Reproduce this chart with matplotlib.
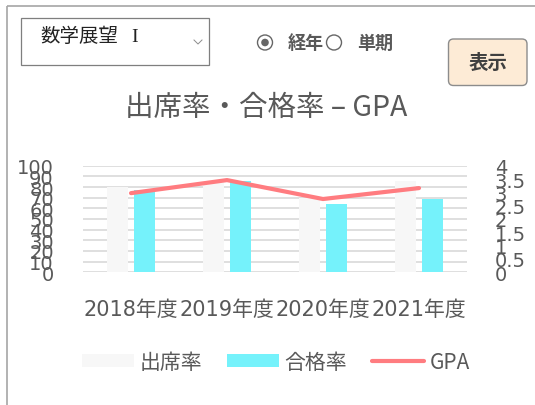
import matplotlib
matplotlib.use("Agg")
import matplotlib.pyplot as plt
import numpy as np
from matplotlib.patches import Circle, FancyBboxPatch
from matplotlib.lines import Line2D
from matplotlib.patches import Patch

plt.rcParams["font.family"] = ["Noto Sans CJK JP", "DejaVu Sans"]
NUM_FONT = ["DejaVu Sans", "Noto Sans CJK JP"]

# data
years = ["2018年度", "2019年度", "2020年度", "2021年度"]
attendance = [80, 84, 70, 86]
pass_rate = [77, 86, 64, 69]
gpa = [2.97, 3.46, 2.75, 3.16]
left_ticks = list(range(0, 101, 10))
right_ticks = [0, 0.5, 1, 1.5, 2, 2.5, 3, 3.5, 4]

TEXT = "#595959"
GRID = "#D9D9D9"
C_ATT = "#F7F7F7"
C_PASS = "#75F2FB"
C_GPA = "#FF7C80"

W, H = 535, 406
fig = plt.figure(figsize=(W / 100, H / 100), dpi=100)
fig.patch.set_facecolor("white")

# overlay in pixel coords for the form widgets and frame
ov = fig.add_axes([0, 0, 1, 1])
ov.set_xlim(0, W)
ov.set_ylim(H, 0)
ov.set_axis_off()

ov.plot([7.3, W], [7.3, 7.3], color="#A6A6A6", lw=1.2, solid_capstyle="butt")
ov.plot([7.3, 7.3], [7.3, H], color="#A6A6A6", lw=1.2, solid_capstyle="butt")

# dropdown
ov.add_patch(plt.Rectangle((21.3, 19), 188, 47, fc="white", ec="#7F7F7F", lw=0.9))
ov.text(40.7, 37, "数学展望", fontsize=14, color="#222222", va="center", ha="left")
ov.text(131, 37.5, "I", fontsize=14, family="Liberation Serif", color="#222222", va="center", ha="left")
ov.plot([194, 198, 202], [41, 45, 41], color="#8C8C8C", lw=0.7)

# radio buttons
ov.add_patch(Circle((265, 43.5), 7.5, fc="white", ec="#666666", lw=1.0))
ov.add_patch(Circle((265, 43.5), 3.8, fc="#666666", ec="none"))
ov.text(288, 43.5, "経年", fontsize=13, fontweight="bold", color=TEXT, va="center", ha="left")
ov.add_patch(Circle((334, 43.5), 7.5, fc="white", ec="#666666", lw=1.0))
ov.text(356.7, 43.5, "単期", fontsize=13, fontweight="bold", color=TEXT, va="center", ha="left")

# button
ov.add_patch(FancyBboxPatch((448.5, 40), 78.5, 46.5, boxstyle="round,pad=0,rounding_size=5",
                            fc="#FDEBD6", ec="#8C8C8C", lw=1.0))
ov.text(488, 63, "表示", fontsize=14, fontweight="bold", color="#404040", va="center", ha="center")

# title
fig.text(266 / W, 1 - 108 / H, "出席率・合格率 – GPA", fontsize=20.5, color=TEXT, ha="center", va="center")

# chart
ax1 = fig.add_axes([83 / W, 1 - 273.3 / H, 384 / W, 106.6 / H])
ax2 = ax1.twinx()
x = np.arange(len(years))
bw = 0.22
off = 0.143
ax1.bar(x - off, attendance, bw, color=C_ATT, zorder=2, label="出席率")
ax1.bar(x + off, pass_rate, bw, color=C_PASS, zorder=2, label="合格率")
ax2.plot(x, gpa, color=C_GPA, lw=3.0, solid_capstyle="round", zorder=3, label="GPA")

ax1.set_xlim(-0.5, len(years) - 0.5)
ax1.set_ylim(0, 100)
ax2.set_ylim(0, 4)
ax1.set_yticks(left_ticks)
ax2.set_yticks(right_ticks)
ax2.set_yticklabels([f"{t:g}" for t in right_ticks])
ax1.set_xticks(x)
ax1.set_xticklabels(years)
for t in left_ticks:
    ax1.axhline(t, color=GRID, lw=1.2, zorder=1)
for a in (ax1, ax2):
    for s in a.spines.values():
        s.set_visible(False)
    a.tick_params(length=0, labelsize=14, labelcolor=TEXT)
    for lab in a.get_yticklabels():
        lab.set_family(NUM_FONT)
for lab in ax1.get_xticklabels():
    lab.set_family(NUM_FONT)
    lab.set_fontsize(15)
ax1.tick_params(axis="y", pad=21)
ax2.tick_params(axis="y", pad=20)
ax1.tick_params(axis="x", pad=19)
ax1.set_zorder(ax2.get_zorder() - 1)
ax2.patch.set_visible(False)
ax1.patch.set_visible(False)

handles = [Patch(fc=C_ATT, ec="none"), Patch(fc=C_PASS, ec="none"),
           Line2D([], [], color=C_GPA, lw=3.0, solid_capstyle="round")]
fig.legend(handles, ["出席率", "合格率", "GPA"], loc="center", bbox_to_anchor=(276 / W, 1 - 363 / H),
           ncol=3, frameon=False, fontsize=15, labelcolor=TEXT, handlelength=2.5, handleheight=0.58,
           handletextpad=0.25, columnspacing=1.2, borderpad=0)

fig.savefig("out.png", dpi=100)
